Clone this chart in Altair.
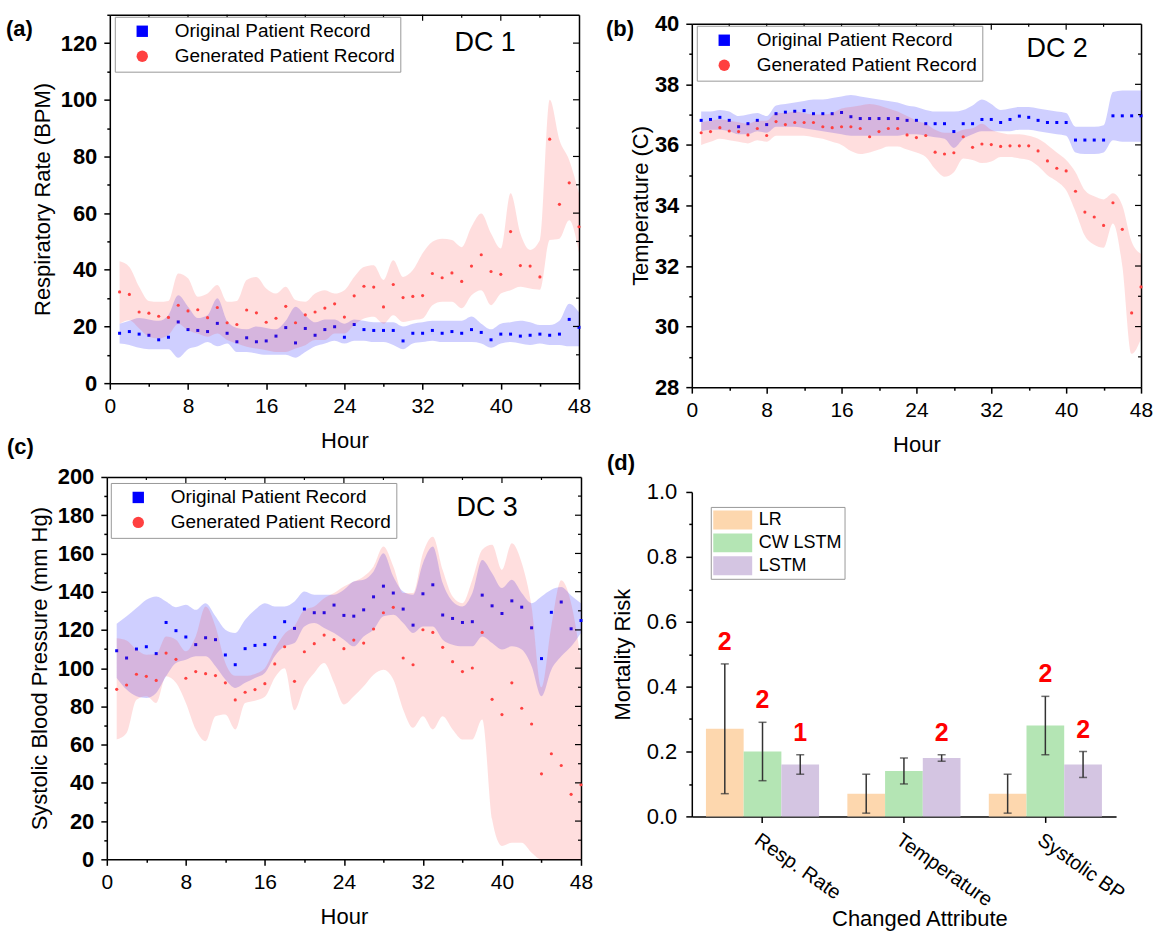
import altair as alt
import pandas as pd

FONT = "Liberation Sans"
BLUE = "#0000FF"
RED = "#FF4040"
SERIES = ["Original Patient Record", "Generated Patient Record"]
hours = list(range(1, 49))

# ---------------- (a) Respiratory rate ----------------
rr_orig = [17.6, 18.2, 17.3, 16.9, 15.3, 16.2, 21.6, 18.9, 18.6, 18.2,
           21.1, 17.6, 14.6, 16.0, 14.6, 14.9, 16.6, 19.6, 14.2, 19.3,
           16.9, 18.9, 19.9, 16.2, 20.7, 18.9, 18.6, 18.6, 18.6, 14.9,
           17.6, 17.6, 18.6, 17.6, 18.2, 17.6, 18.9, 17.9, 15.3, 17.3,
           17.3, 16.6, 16.9, 17.3, 16.9, 17.3, 22.5, 19.7]
rr_orig_lo = [14, 13.5, 12.5, 12, 12, 12, 9, 12, 13, 14.5,
              13, 14, 11, 11, 10.5, 10, 10, 10, 9, 11,
              13, 14, 15, 14, 15, 15, 14.5, 14.5, 13.5, 12,
              14, 14.5, 15, 14.5, 14.5, 14.5, 14.5, 14, 12.5, 14,
              14.5, 14, 13.5, 14, 13.5, 13.5, 13, 13]
rr_orig_hi = [21, 22, 23, 22.5, 22, 24, 31, 27, 23, 24,
              30, 22, 19.5, 19, 20, 19.5, 19, 22, 27, 24,
              21.5, 22.5, 22.5, 21, 22.5, 22, 21.5, 21.5, 21.5, 20,
              21, 21.5, 22, 22, 22, 22, 23.5, 21, 19, 21,
              21.5, 22, 21.5, 20.5, 20.5, 22, 28, 25]
rr_gen = [32.2, 31.3, 25.1, 24.7, 23.6, 23.2, 27.5, 25.5, 25.9, 23.1,
          26.7, 21.3, 20.7, 25.8, 24.8, 21.5, 22.9, 27.1, 21.3, 24.1,
          25.1, 26.5, 28.0, 23.3, 30.8, 34.2, 33.9, 26.9, 34.8, 30.2,
          30.6, 30.9, 38.7, 37.2, 38.9, 35.9, 41.3, 45.3, 39.4, 38.4,
          53.5, 41.5, 41.3, 37.5, 86.1, 63.1, 70.7, 55.2]
rr_gen_lo = [21, 22.2, 19.3, 16.4, 15.8, 17, 21, 18.7, 17.5, 16.4,
             17.5, 15.2, 14, 12.8, 12.2, 11.6, 11, 11, 12.2, 13.4,
             15.2, 15.2, 17.5, 17.5, 20.5, 22.8, 23.4, 21, 24, 21.6,
             22.2, 22.8, 27.5, 28.7, 28.7, 26.4, 31, 32.8, 27.5, 31.6,
             32.8, 34, 33.4, 33, 50.5, 51, 57.5, 46]
rr_gen_hi = [43, 41, 34, 29, 28.7, 29, 38.7, 37, 30.5, 31.6,
             34.6, 28.7, 29, 36.4, 37.5, 33.4, 31.6, 34, 29.3, 28.7,
             31.6, 32.8, 31.6, 32.8, 37.5, 41, 41.6, 36.4, 43.4, 37.5,
             39.9, 45.8, 49.9, 51, 50.5, 48, 55.2, 59.9, 52.8, 47.5,
             67, 52.8, 47, 50.5, 100, 85.8, 78.7, 67]

# ---------------- (b) Temperature ----------------
tp_orig = [36.81, 36.84, 36.91, 36.81, 36.60, 36.70, 36.81, 36.67, 37.03, 37.08,
           37.11, 37.13, 37.03, 37.03, 37.03, 37.07, 36.93, 36.87, 36.87, 36.87,
           36.87, 36.87, 36.81, 36.81, 36.70, 36.70, 36.70, 36.44, 36.70, 36.70,
           36.84, 36.84, 36.74, 36.84, 36.95, 36.91, 36.81, 36.74, 36.74, 36.74,
           36.16, 36.16, 36.16, 36.16, 36.96, 36.96, 36.96, 36.96]
tp_orig_lo = [36.45, 36.5, 36.5, 36.45, 36.35, 36.35, 36.45, 36.4, 36.6, 36.6,
              36.6, 36.55, 36.5, 36.45, 36.4, 36.35, 36.3, 36.3, 36.3, 36.3,
              36.3, 36.3, 36.35, 36.35, 36.3, 36.25, 36.2, 35.9, 36.2, 36.35,
              36.45, 36.45, 36.45, 36.45, 36.5, 36.5, 36.45, 36.4, 36.35, 36.3,
              35.75, 35.7, 35.7, 35.75, 36.15, 36.1, 36.1, 36.1]
tp_orig_hi = [37.1, 37.1, 37.15, 37.1, 36.95, 37.0, 37.05, 36.95, 37.3, 37.35,
              37.4, 37.45, 37.5, 37.5, 37.55, 37.6, 37.65, 37.6, 37.55, 37.5,
              37.45, 37.4, 37.3, 37.25, 37.15, 37.1, 37.1, 37.1, 37.15, 37.3,
              37.5, 37.35, 37.15, 37.2, 37.25, 37.25, 37.2, 37.15, 37.1, 37.05,
              36.6, 36.6, 36.6, 36.65, 37.75, 37.8, 37.8, 37.8]
tp_gen = [36.40, 36.44, 36.57, 36.46, 36.44, 36.33, 36.54, 36.31, 36.77, 36.67,
          36.74, 36.74, 36.74, 36.60, 36.57, 36.60, 36.60, 36.54, 36.27, 36.44,
          36.54, 36.54, 36.33, 36.24, 36.31, 35.76, 35.70, 35.74, 36.27, 35.92,
          36.03, 36.01, 35.95, 35.97, 35.97, 35.97, 35.80, 35.47, 35.23, 35.14,
          34.47, 33.78, 33.62, 33.34, 34.09, 33.21, 30.45, 31.31]
tp_gen_lo = [36.0, 36.1, 36.2, 36.15, 36.1, 36.05, 36.15, 36.1, 36.3, 36.3,
             36.3, 36.3, 36.25, 36.2, 36.1, 36.0, 35.8, 35.7, 35.75, 35.85,
             35.95, 35.95, 35.85, 35.75, 35.6, 35.2, 34.95, 35.1, 35.55, 35.5,
             35.4, 35.45, 35.6, 35.6, 35.55, 35.5, 35.3, 35.0, 34.8, 34.5,
             33.8, 33.0, 32.7, 32.6, 33.4, 32.0, 29.1, 29.6]
tp_gen_hi = [36.75, 36.8, 36.85, 36.8, 36.75, 36.7, 36.8, 36.8, 37.05, 37.05,
             37.1, 37.05, 37.0, 37.0, 37.05, 37.2, 37.25, 37.3, 37.35, 37.3,
             37.2, 37.1, 36.95, 36.8, 36.7, 36.5, 36.4, 36.4, 36.5, 36.55,
             36.7, 36.5, 36.4, 36.35, 36.35, 36.3, 36.2, 36.0, 35.75, 35.5,
             35.1, 34.5, 34.3, 34.2, 34.4, 34.0, 32.8, 32.4]

# ---------------- (c) Systolic BP ----------------
bp_orig = [109.1, 105.3, 110.0, 111.2, 107.6, 123.9, 119.6, 116.3, 112.3, 115.9,
           114.9, 106.9, 101.8, 110.2, 111.9, 112.3, 116.1, 124.3, 120.8, 130.9,
           129.0, 129.0, 133.0, 127.6, 127.2, 130.5, 137.3, 142.9, 139.3, 130.9,
           122.5, 138.9, 143.6, 127.8, 126.0, 123.9, 124.3, 138.2, 132.6, 128.6,
           135.2, 131.9, 121.1, 105.0, 129.2, 134.6, 120.6, 124.9]
bp_orig_lo = [94.9, 88.8, 85.3, 84.4, 87, 95.7, 102.7, 104.4, 106.2, 106.2,
              101, 94, 89.6, 92.3, 94.9, 97.5, 106.2, 111.4, 113.1, 121.8,
              123.6, 121, 118.4, 114.9, 111.4, 116.6, 120.1, 127.1, 127.9, 123.6,
              118.4, 121.8, 121.8, 114.9, 112.3, 111.4, 111.4, 116.6, 113.1, 109.7,
              111.4, 109.7, 101, 85.3, 99.2, 106.2, 111.3, 118.4]
bp_orig_hi = [123.2, 127.1, 131.4, 135.8, 137.5, 134.9, 131.9, 133.2, 130.5, 134,
              127.1, 120.1, 118.4, 125.3, 130.5, 134, 132.3, 132.3, 134.9, 140.1,
              138.4, 138.4, 138.4, 141, 145.3, 146.2, 150.6, 160.1, 148, 140.1,
              138.4, 154.9, 163.6, 144.5, 134.9, 132.3, 139.3, 156.6, 149.7, 141.9,
              146.2, 139.3, 134, 137.5, 141, 142.4, 138, 134]
bp_gen = [88.9, 91.2, 96.8, 95.7, 93.6, 107.9, 104.6, 94.7, 98.2, 97.1,
          96.1, 92.3, 83.4, 87.4, 88.8, 91.9, 102.2, 111.2, 93.1, 108.6,
          112.8, 117.3, 114.9, 110.2, 114.7, 113.1, 120.5, 129.0, 131.8, 105.3,
          101.8, 120.1, 118.7, 110.9, 103.4, 98.2, 100.1, 118.7, 83.7, 75.7,
          92.3, 79.0, 70.8, 44.7, 55.2, 49.1, 34.0, 39.0]
bp_gen_lo = [62.7, 66.1, 83.5, 85.3, 81.8, 95.7, 92.3, 81.8, 67.9, 61.8,
             74.8, 75.7, 67.9, 81.8, 83, 85, 95, 100, 78, 90.5,
             97.5, 102.7, 92.3, 81, 85.3, 90.5, 96.6, 99.2, 94, 78.3,
             68.8, 74.8, 67.9, 74.8, 67.9, 62.7, 62.7, 73.1, 20.9, 7,
             8.7, 8.7, 3.5, 0, 0, 0, 0, 0]
bp_gen_hi = [115.7, 114.5, 109.7, 107, 107.4, 116.6, 114.9, 108.8, 116.6, 132.3,
             121.8, 102.7, 96, 96, 97, 100, 110, 118, 122, 130.5,
             132.3, 136.6, 139.3, 142.7, 145.3, 148, 153.2, 163.6, 153.2, 139.3,
             139.3, 160.1, 168.8, 151.4, 137.5, 134, 146.2, 161.9, 164.5, 151.4,
             165.4, 155, 132, 90, 122, 146, 134, 104]

# ---------------- (d) Mortality risk ----------------
attributes = ["Resp. Rate", "Temperature", "Systolic BP"]
models = ["LR", "CW LSTM", "LSTM"]
model_colors = ["#FDD7AE", "#B4E5B4", "#D4C5E2"]
risk_mean = {"LR": [0.27, 0.07, 0.07], "CW LSTM": [0.20, 0.14, 0.28], "LSTM": [0.16, 0.18, 0.16]}
risk_lo = {"LR": [0.07, 0.01, 0.01], "CW LSTM": [0.11, 0.10, 0.19], "LSTM": [0.13, 0.17, 0.12]}
risk_hi = {"LR": [0.47, 0.13, 0.13], "CW LSTM": [0.29, 0.18, 0.37], "LSTM": [0.19, 0.19, 0.20]}
risk_count = {"LR": ["2", "", ""], "CW LSTM": ["2", "", "2"], "LSTM": ["1", "2", "2"]}


def long_df(orig, olo, ohi, gen, glo, ghi):
    rows = []
    for i, h in enumerate(hours):
        rows.append(dict(hour=h, val=orig[i], lo=olo[i], hi=ohi[i], series=SERIES[0]))
    for i, h in enumerate(hours):
        rows.append(dict(hour=h, val=gen[i], lo=glo[i], hi=ghi[i], series=SERIES[1]))
    return pd.DataFrame(rows)


def text_layer(txt, x, y, size, weight="normal", align="center", color="black"):
    return alt.Chart(pd.DataFrame({"t": [txt]})).mark_text(
        font=FONT, fontSize=size, fontWeight=weight, align=align, baseline="middle", color=color
    ).encode(text="t:N", x=alt.value(x), y=alt.value(y))


def ts_panel(df, w, h, xr, yr, ydom, yvals, ymajor, ytitle, ytitle_pad, left_off, top_px, right_px,
             rmajor, rminor, dc, dc_xy, tag, tag_xy, legend_xy):
    xs = alt.Scale(domain=[0, 48], range=xr, nice=False, zero=False)
    ys = alt.Scale(domain=ydom, range=yr, nice=False, zero=False)
    cs = alt.Scale(domain=SERIES, range=[BLUE, RED])
    ss = alt.Scale(domain=SERIES, range=["square", "circle"])
    leg = alt.Legend(title=None, orient="none", legendX=legend_xy[0], legendY=legend_xy[1],
                     fillColor="white", strokeColor="#999999", padding=5, labelLimit=0,
                     labelFont=FONT, labelFontSize=19, labelColor="black", symbolSize=130,
                     symbolStrokeWidth=0, symbolOpacity=1, symbolOffset=13, labelOffset=23,
                     rowPadding=5, cornerRadius=0)
    xaxis_b = alt.Axis(orient="bottom", values=list(range(0, 49, 4)),
                       labelExpr="datum.value % 8 === 0 ? datum.label : ''",
                       tickSize={"condition": {"test": "datum.value % 8 !== 0", "value": 3}, "value": 6},
                       labelPadding=6, labelFontSize=21, labelFlush=False, labelOverlap=False,
                       title="Hour", titleFontSize=22, titlePadding=14, grid=False)
    yaxis_l = alt.Axis(orient="left", values=yvals, offset=left_off,
                       labelExpr=f"datum.value % {ymajor} === 0 ? datum.label : ''",
                       tickSize={"condition": {"test": f"datum.value % {ymajor} !== 0", "value": 3}, "value": 6},
                       labelPadding=7, labelFontSize=22, labelFontWeight="bold", labelFlush=False,
                       labelOverlap=False, title=ytitle, titleFontSize=22, titlePadding=ytitle_pad, grid=False)
    xaxis_t = alt.Axis(orient="top", labels=False, ticks=False, title=None, grid=False, offset=-top_px)
    yaxis_r = alt.Axis(orient="right", labels=False, ticks=False, title=None, grid=False)

    orig = df[df.series == SERIES[0]]
    gen = df[df.series == SERIES[1]]
    band_o = alt.Chart(orig).mark_area(interpolate="monotone", color=BLUE, opacity=0.19).encode(
        x=alt.X("hour:Q", scale=xs, axis=xaxis_b),
        y=alt.Y("lo:Q", scale=ys, axis=yaxis_l), y2="hi:Q")
    pts_o = alt.Chart(orig).mark_point(filled=True, size=9, opacity=1).encode(
        x=alt.X("hour:Q", scale=xs, axis=xaxis_t),
        y=alt.Y("val:Q", scale=ys, axis=yaxis_r),
        color=alt.Color("series:N", scale=cs, legend=leg),
        shape=alt.Shape("series:N", scale=ss, legend=leg))
    band_g = alt.Chart(gen).mark_area(interpolate="monotone", color="#FF3030", opacity=0.16).encode(
        x=alt.X("hour:Q", scale=xs, axis=None),
        y=alt.Y("lo:Q", scale=ys, axis=None), y2="hi:Q")
    pts_g = alt.Chart(gen).mark_point(filled=True, size=10, opacity=1).encode(
        x=alt.X("hour:Q", scale=xs, axis=None),
        y=alt.Y("val:Q", scale=ys, axis=None),
        color=alt.Color("series:N", scale=cs, legend=leg),
        shape=alt.Shape("series:N", scale=ss, legend=leg))

    def top_rules(vals, length):
        return alt.Chart(pd.DataFrame({"v": vals})).mark_rule(color="black", strokeWidth=1.2).encode(
            x=alt.X("v:Q", scale=xs, axis=None), y=alt.value(top_px), y2=alt.value(top_px + length))

    def right_rules(vals, length):
        return alt.Chart(pd.DataFrame({"v": vals})).mark_rule(color="black", strokeWidth=1.2).encode(
            y=alt.Y("v:Q", scale=ys, axis=None), x=alt.value(right_px), x2=alt.value(right_px - length))

    layers = [band_o, pts_o, band_g, pts_g,
              top_rules([8, 16, 24, 32, 40], 6), top_rules([4, 12, 20, 28, 36, 44], 3),
              right_rules(rmajor, 6), right_rules(rminor, 3),
              text_layer(dc, dc_xy[0], dc_xy[1], 27),
              text_layer(tag, tag_xy[0], tag_xy[1], 22, weight="bold", align="left")]
    return alt.layer(*layers).resolve_axis(x="independent", y="independent").properties(width=w, height=h)


panel_a = ts_panel(long_df(rr_orig, rr_orig_lo, rr_orig_hi, rr_gen, rr_gen_lo, rr_gen_hi),
                   w=473, h=369, xr=[3, 473], yr=[369, 0], ydom=[0, 130], yvals=list(range(0, 131, 10)),
                   ymajor=20, ytitle="Respiratory Rate (BPM)", ytitle_pad=6, left_off=-3, top_px=0,
                   right_px=473, rmajor=[20, 40, 60, 80, 100, 120], rminor=[10, 30, 50, 70, 90, 110],
                   dc="DC 1", dc_xy=(379, 28), tag="(a)", tag_xy=(-101, 14), legend_xy=(8, 2))
panel_b = ts_panel(long_df(tp_orig, tp_orig_lo, tp_orig_hi, tp_gen, tp_gen_lo, tp_gen_hi),
                   w=450, h=373, xr=[0, 450], yr=[373, 9], ydom=[28, 40], yvals=list(range(28, 41)),
                   ymajor=2, ytitle="Temperature (C)", ytitle_pad=2, left_off=0, top_px=9,
                   right_px=450, rmajor=[30, 32, 34, 36, 38], rminor=[29, 31, 33, 35, 37, 39],
                   dc="DC 2", dc_xy=(366, 34), tag="(b)", tag_xy=(-86, 14), legend_xy=(5, 11))
panel_c = ts_panel(long_df(bp_orig, bp_orig_lo, bp_orig_hi, bp_gen, bp_gen_lo, bp_gen_hi),
                   w=475, h=383, xr=[0, 475], yr=[383, 0], ydom=[0, 200], yvals=list(range(0, 201, 10)),
                   ymajor=20, ytitle="Systolic Blood Pressure (mm Hg)", ytitle_pad=6, left_off=0, top_px=0,
                   right_px=475, rmajor=list(range(20, 200, 20)), rminor=list(range(10, 200, 20)),
                   dc="DC 3", dc_xy=(381, 31), tag="(c)", tag_xy=(-100, -30), legend_xy=(4, 6))

# ---- panel d ----
rows = []
for m in models:
    for i, a in enumerate(attributes):
        rows.append(dict(attr=a, model=m, mean=risk_mean[m][i], lo=risk_lo[m][i],
                         hi=risk_hi[m][i], ann=risk_count[m][i]))
ddf = pd.DataFrame(rows)

xs_d = alt.Scale(domain=attributes, range=[0, 425], paddingInner=0.2, paddingOuter=0.1)
xo_d = alt.Scale(domain=models, paddingInner=0, paddingOuter=0)
ys_d = alt.Scale(domain=[0, 1], range=[340, 15], nice=False, zero=False)
d_yvals = [round(i * 0.1, 1) for i in range(11)]
d_xaxis = alt.Axis(orient="bottom", labelAngle=35, labelAlign="left", labelBaseline="top",
                   labelFontSize=20, labelPadding=7, tickSize=6, title="Changed Attribute",
                   titleFontSize=22, titleY=92, titleX=228, titleBaseline="top", grid=False,
                   labelOverlap=False)
d_yaxis = alt.Axis(orient="left", values=d_yvals,
                   labelExpr="round(datum.value * 10) % 2 === 0 ? format(datum.value, '.1f') : ''",
                   tickSize={"condition": {"test": "round(datum.value * 10) % 2 !== 0", "value": 3}, "value": 6},
                   labelPadding=9, labelFontSize=22, labelFlush=False, labelOverlap=False,
                   title="Mortality Risk", titleFontSize=22, titlePadding=12, grid=False)
d_leg = alt.Legend(title=None, orient="none", legendX=19, legendY=30, fillColor="white",
                   strokeColor="#999999", padding=3, labelFont=FONT, labelFontSize=18, labelLimit=0,
                   labelColor="black", symbolType="M-1.95,-0.95H1.95V0.95H-1.95Z", symbolSize=400,
                   symbolStrokeWidth=0, symbolOpacity=1, symbolOffset=9, labelOffset=16,
                   rowPadding=3, cornerRadius=0)

base_d = alt.Chart(ddf)
bars = base_d.mark_bar().encode(
    x=alt.X("attr:N", sort=attributes, scale=xs_d, axis=d_xaxis),
    xOffset=alt.XOffset("model:N", sort=models, scale=xo_d),
    y=alt.Y("mean:Q", scale=ys_d, axis=d_yaxis),
    color=alt.Color("model:N", sort=models, scale=alt.Scale(domain=models, range=model_colors), legend=d_leg))
err = base_d.mark_rule(color="#333333", strokeWidth=1.5).encode(
    x=alt.X("attr:N", sort=attributes, scale=xs_d, axis=None),
    xOffset=alt.XOffset("model:N", sort=models, scale=xo_d),
    y=alt.Y("lo:Q", scale=ys_d, axis=None), y2="hi:Q")
cap_lo = base_d.mark_tick(color="#333333", size=8, thickness=1.5, orient="horizontal").encode(
    x=alt.X("attr:N", sort=attributes, scale=xs_d, axis=None),
    xOffset=alt.XOffset("model:N", sort=models, scale=xo_d),
    y=alt.Y("lo:Q", scale=ys_d, axis=None))
cap_hi = base_d.mark_tick(color="#333333", size=8, thickness=1.5, orient="horizontal").encode(
    x=alt.X("attr:N", sort=attributes, scale=xs_d, axis=None),
    xOffset=alt.XOffset("model:N", sort=models, scale=xo_d),
    y=alt.Y("hi:Q", scale=ys_d, axis=None))
ann = base_d.transform_filter("datum.ann != ''").mark_text(
    font=FONT, fontSize=25, fontWeight="bold", color="#FF0000", baseline="alphabetic", dy=-14).encode(
    x=alt.X("attr:N", sort=attributes, scale=xs_d, axis=None),
    xOffset=alt.XOffset("model:N", sort=models, scale=xo_d),
    y=alt.Y("hi:Q", scale=ys_d, axis=None), text="ann:N")
panel_d = alt.layer(bars, err, cap_lo, cap_hi, ann,
                    text_layer("(d)", -85, -14, 22, weight="bold", align="left")).resolve_axis(
    x="independent", y="independent").properties(width=450, height=340)

chart = alt.concat(panel_a, panel_b, panel_c, panel_d, columns=2,
                   spacing={"row": 90, "column": 111}, bounds="flush", align="each").resolve_scale(
    color="independent", shape="independent").properties(
    padding={"left": 6, "top": 3, "right": 2, "bottom": 2}, background="white"
).configure(font=FONT).configure_axis(
    labelFont=FONT, titleFont=FONT, labelColor="black", titleColor="black", domainColor="black",
    tickColor="black", domainWidth=1.5, tickWidth=1.5, titleFontWeight="normal"
).configure_legend(strokeWidth=1).configure_view(stroke=None)

chart.save("out.html", embed_options={"renderer": "svg", "actions": False})
